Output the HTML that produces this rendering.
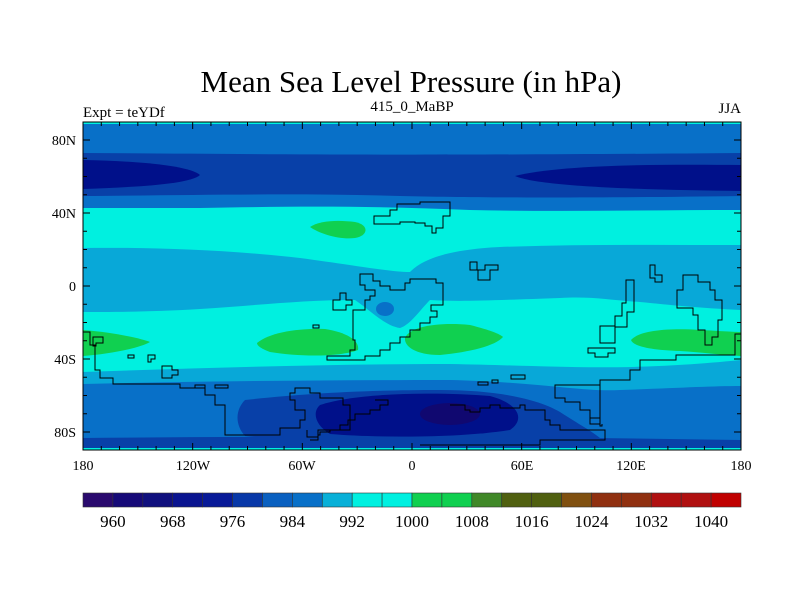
<!DOCTYPE html>
<html><head><meta charset="utf-8"><style>
html,body{margin:0;padding:0;background:#fff;}
svg{display:block;font-family:"Liberation Serif",serif;}
</style></head><body>
<svg width="800" height="600" viewBox="0 0 800 600">
<text x="411" y="92" font-size="31" text-anchor="middle">Mean Sea Level Pressure (in hPa)</text>
<text x="83" y="117" font-size="15">Expt = teYDf</text>
<text x="412" y="111" font-size="15" text-anchor="middle">415_0_MaBP</text>
<text x="741" y="113" font-size="15" text-anchor="end">JJA</text>
<defs><clipPath id="mc"><rect x="83" y="122" width="658" height="328"/></clipPath></defs>
<g clip-path="url(#mc)">
<rect x="83" y="122" width="658" height="328" fill="#00f0e0"/>
<!-- north medium blue -->
<path d="M83,124 H741 V210 C650,210 560,212 470,210 C380,206 300,206 200,208 C150,208 110,208 83,208 Z" fill="#0870c8"/>
<!-- north dark band -->
<path d="M83,153 C250,154 400,156 741,153 V196 C600,198 480,198 400,196 C300,193 200,195 83,196 Z" fill="#0840a8"/>
<path d="M83,160 C140,161 190,166 200,175 C190,184 140,187 83,189 Z" fill="#00108a"/>
<path d="M741,165 C650,164 560,165 515,176 C540,187 650,190 741,191 Z" fill="#00108a"/>
<!-- tropical light blue band -->
<path d="M83,248 C150,247 230,250 300,258 C360,266 390,272 410,272 C420,262 440,250 500,247 C580,244 660,245 741,245 V310 C700,308 670,305 640,302 C610,300 590,296 560,298 C500,300 460,302 430,300 C420,310 410,325 400,328 C385,326 370,310 355,300 C300,300 250,306 200,309 C150,312 110,312 83,312 Z" fill="#08a8d8"/>
<ellipse cx="385" cy="309" rx="9" ry="7" fill="#0870c8"/>
<!-- southern light blue -->
<path d="M83,372 C200,368 330,364 450,364 C560,366 620,372 741,360 V450 H83 Z" fill="#08a8d8"/>
<!-- southern medium blue -->
<path d="M83,384 C200,381 330,380 450,380 C540,382 580,392 620,390 C680,388 710,386 741,386 V450 H83 Z" fill="#0870c8"/>
<!-- southern dark -->
<path d="M245,400 C300,394 360,390 440,390 C500,390 540,400 560,412 C580,425 590,430 600,438 C560,440 500,438 440,440 C340,440 280,440 245,436 C235,425 235,410 245,400 Z" fill="#0840a8"/>
<path d="M320,405 C360,392 440,392 490,396 C520,404 525,420 510,430 C460,438 380,438 330,434 C315,425 312,412 320,405 Z" fill="#00108a"/>
<ellipse cx="450" cy="414" rx="30" ry="11" fill="#100870"/>
<path d="M83,438 C300,436 500,436 741,440 V450 H83 Z" fill="#0840a8"/>
<!-- green highs -->
<path d="M310,227 C320,220 340,220 355,222 C370,225 368,236 355,238 C340,240 320,234 310,227 Z" fill="#10d050"/>
<path d="M83,330 C110,332 140,338 150,342 C140,348 110,354 83,356 Z" fill="#10d050"/>
<path d="M257,343 C270,332 300,328 325,329 C345,332 360,340 358,350 C340,357 300,357 270,352 C262,349 257,346 257,343 Z" fill="#10d050"/>
<path d="M405,338 C410,326 440,322 470,325 C490,330 500,334 503,337 C495,346 470,352 440,355 C415,355 404,346 405,338 Z" fill="#10d050"/>
<path d="M631,340 C640,330 670,328 700,330 C720,331 735,332 741,332 V356 C720,355 700,352 680,351 C650,350 633,346 631,340 Z" fill="#10d050"/>
<rect x="83" y="122" width="658" height="2" fill="#00f0e0"/>
<rect x="83" y="448" width="658" height="2" fill="#00f0e0"/>
<!-- coastlines -->
<g fill="none" stroke="#000" stroke-width="1">
<path d="M374,224 V216 H390 V210 H397 V204 H420 V202 H450 V216 H443 V228 H436 V233 H432 V226 H425 V223 H415 V222 H400 V224 Z"/>
<path d="M360,274 H373 V281 H380 V286 H390 V290 H405 V283 H410 V279 H420 V279 H436 V283 H443 H443 V305 H431 V311 H437 V317 H430 V323 H420 V330 H410 V337 H400 V343 H390 V350 H380 V356 H365 V360 H327 V356 H350 V350 H355 V340 H353 V310 H365 V300 H370 V296 H375 V290 H365 V285 H360 Z"/>
<path d="M333,300 H340 V293 H346 V300 H352 V305 H346 V310 H333 Z"/>
<path d="M313,325 H319 V328 H313 Z"/>
<path d="M470,262 H477 V270 H485 V265 H498 V270 H490 V280 H478 V270 H470 Z"/>
<path d="M600,343 V326 H615 V316 H622 V303 H626 V280 H634 V312 H627 V327 H615 V343 Z"/>
<path d="M588,348 H615 V353 H608 V357 H595 V353 H588 Z"/>
<path d="M650,265 H655 V275 H662 V282 H655 V278 H650 Z"/>
<path d="M683,275 V290 H677 V308 H693 V315 H698 V330 H705 V345 H712 V337 H718 V320 H722 V300 H715 V290 H710 V282 H698 V275 Z"/>
<path d="M741,334 H735 V355 H676 V360 H640 V370 H630 V380 H600 V385 H555 V398 H565 V402 H580 V410 H590 V418 H600 V426 H602 V424"/>
<path d="M600,385 V424 H590 V418"/>
<path d="M83,332 H90 V345 H95 V370 H100 V378 H113 V384 H180 V388 H205 V395 H215 V405 H225 V435 H280 V428 H300 V420 H305 V410 H295 V400 H290 V393 H295 V388 H310 V393 H320 V398 H343 V405 H350 V430 H318 V437 H307 V430"/>
<path d="M93,337 H103 V343 H96 V346 H93 Z"/>
<path d="M128,355 H134 V358 H128 Z"/>
<path d="M148,355 H155 V359 H151 V362 H148 Z"/>
<path d="M162,366 H172 V370 H178 V375 H172 V378 H162 Z"/>
<path d="M195,385 H205 V388 H195 Z"/>
<path d="M215,385 H228 V388 H215 Z"/>
<path d="M310,440 H318 V435 H320 V432 H330 V430 H340 V425 H348 V420 H355 V414 H370 V410 H380 V405 H388 V400 H375"/>
<path d="M450,405 H465 V410 H470 V412 H480 V408 H490 V405 H500 V408 H520 V405 H525 V410 H545 V420 H550 V425 H560 V430 H605 V440 H540 V445 H420"/>
<path d="M511,375 H525 V379 H511 Z"/>
<path d="M478,382 H488 V385 H478 Z"/>
<path d="M492,380 H498 V383 H492 Z"/>
</g>
</g>
<rect x="83" y="122" width="658" height="328" fill="none" stroke="#000" stroke-width="1"/>
<g id="ticks" stroke="#000" stroke-width="1"></g>
<g font-size="14">
<text x="76" y="145" text-anchor="end">80N</text>
<text x="76" y="218" text-anchor="end">40N</text>
<text x="76" y="291" text-anchor="end">0</text>
<text x="76" y="364" text-anchor="end">40S</text>
<text x="76" y="437" text-anchor="end">80S</text>
<text x="83" y="470" text-anchor="middle">180</text>
<text x="193" y="470" text-anchor="middle">120W</text>
<text x="302" y="470" text-anchor="middle">60W</text>
<text x="412" y="470" text-anchor="middle">0</text>
<text x="522" y="470" text-anchor="middle">60E</text>
<text x="631" y="470" text-anchor="middle">120E</text>
<text x="741" y="470" text-anchor="middle">180</text>
</g>
<g id="cbar"></g>
<script>
const cbColors=["#2a0a6e","#160a78","#10107e","#0a1490","#081a98","#0838a8","#0a60c0","#0870c8","#08b0d8","#00f0e0","#00f0e0","#10d050","#10d050","#408828","#506010","#506010","#805010","#903010","#903010","#b01010","#b01010","#c00000"];
const cbLabels=[960,968,976,984,992,1000,1008,1016,1024,1032,1040];
const ns="http://www.w3.org/2000/svg";
const cb=document.getElementById('cbar');
const x0=83,w=658,bw=w/cbColors.length;
cbColors.forEach((c,i)=>{const r=document.createElementNS(ns,'rect');
r.setAttribute('x',x0+i*bw);r.setAttribute('y',493);r.setAttribute('width',bw);r.setAttribute('height',14);
r.setAttribute('fill',c);r.setAttribute('stroke','#333');r.setAttribute('stroke-width','0.6');


cb.appendChild(r);});
cbLabels.forEach((v,i)=>{const t=document.createElementNS(ns,'text');
t.setAttribute('x',x0+bw*(1+2*i));t.setAttribute('y',527);t.setAttribute('font-size','17');t.setAttribute('text-anchor','middle');
t.textContent=v;


cb.appendChild(t);});
const tk=document.getElementById('ticks');
function ln(a,b,c,d){const l=document.createElementNS(ns,'line');l.setAttribute('x1',a);l.setAttribute('y1',b);l.setAttribute('x2',c);l.setAttribute('y2',d);tk.appendChild(l);}
for(let lon=-180;lon<=180;lon+=10){const x=83+(lon+180)*658/360;const L=(lon%60===0)?7:4;ln(x,122,x,122+L);ln(x,450,x,450-L);}
for(let lat=-80;lat<=80;lat+=10){const y=286-lat*1.825;const L=(lat%40===0)?7:4;ln(83,y,83+L,y);ln(741,y,741-L,y);}
</script>
</svg>
</body></html>
